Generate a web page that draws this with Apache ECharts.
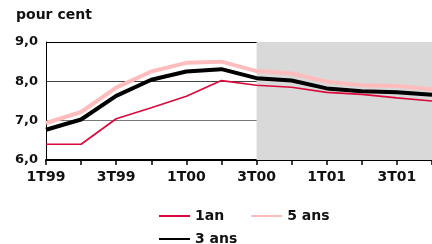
<!DOCTYPE html>
<html>
<head>
<meta charset="utf-8">
<script src="https://cdn.jsdelivr.net/npm/echarts@6/dist/echarts.min.js"></script>
<style>
  html, body { margin: 0; padding: 0; background: #fff; }
  #chart { width: 432px; height: 244px; }
</style>
</head>
<body>
<div id="chart"></div>
<script>
// trimestres
const quarters = ['1T99', '2T99', '3T99', '4T99', '1T00', '2T00', '3T00', '4T00', '1T01', '2T01', '3T01', '4T01'];
// taux en pour cent
const an1 = [6.40, 6.40, 7.05, 7.33, 7.62, 8.02, 7.90, 7.85, 7.72, 7.67, 7.58, 7.50];
const ans3 = [6.77, 7.03, 7.63, 8.04, 8.25, 8.31, 8.08, 8.02, 7.82, 7.75, 7.72, 7.66];
const ans5 = [6.94, 7.22, 7.84, 8.25, 8.47, 8.50, 8.26, 8.20, 7.99, 7.90, 7.88, 7.80];
// zone grisee (previsions)
const shadeFrom = '3T00';
const shadeTo = '4T01';

const font = 'DejaVu Sans';
const chart = echarts.init(document.getElementById('chart'));

const legendText = { fontFamily: font, fontWeight: 'bold', fontSize: 14, color: '#111' };

chart.setOption({
  animation: false,
  textStyle: { fontFamily: font },
  graphic: [{
    type: 'text',
    left: 16,
    top: 8,
    style: { text: 'pour cent', font: 'bold 14px "DejaVu Sans"', fill: '#111' }
  }],
  grid: { left: 46, right: -6, top: 42, bottom: 84 },
  legend: [
    {
      data: ['1an', '5 ans'],
      left: 153, top: 204,
      itemWidth: 31, itemHeight: 14, itemGap: 26,
      itemStyle: { opacity: 0 },
      textStyle: legendText
    },
    {
      data: ['3 ans'],
      left: 153, top: 227,
      itemWidth: 31, itemHeight: 14,
      itemStyle: { opacity: 0 },
      textStyle: legendText
    }
  ],
  xAxis: {
    type: 'category',
    data: quarters,
    boundaryGap: false,
    axisLine: { lineStyle: { color: '#000', width: 2 } },
    axisTick: { interval: 0, length: 5, lineStyle: { color: '#000', width: 1.5 } },
    axisLabel: { interval: 1, margin: 10, color: '#111', fontWeight: 'bold', fontSize: 14, fontFamily: font },
    splitLine: { show: false }
  },
  yAxis: {
    type: 'value',
    min: 6, max: 9, interval: 1,
    axisLine: { show: true, lineStyle: { color: '#000', width: 1 } },
    axisTick: { show: false },
    axisLabel: {
      margin: 8, color: '#111', fontWeight: 'bold', fontSize: 13, fontFamily: font,
      formatter: v => v.toFixed(1).replace('.', ',')
    },
    splitLine: { show: true, lineStyle: { color: ['#000', '#777', '#444', '#000'], width: [1] } }
  },
  series: [
    {
      name: '5 ans', type: 'line', data: ans5, symbol: 'none',
      lineStyle: { color: '#ffbcbc', width: 4 }, itemStyle: { color: '#ffbcbc' },
      markArea: {
        silent: true,
        itemStyle: { color: '#d9d9d9' },
        data: [[{ xAxis: shadeFrom }, { xAxis: shadeTo }]]
      },
      z: 2
    },
    {
      name: '3 ans', type: 'line', data: ans3, symbol: 'none',
      lineStyle: { color: '#000', width: 4 }, itemStyle: { color: '#000' },
      z: 3
    },
    {
      name: '1an', type: 'line', data: an1, symbol: 'none',
      lineStyle: { color: '#dc0a3c', width: 1.7 }, itemStyle: { color: '#dc0a3c' },
      z: 4
    }
  ]
});
</script>
</body>
</html>
